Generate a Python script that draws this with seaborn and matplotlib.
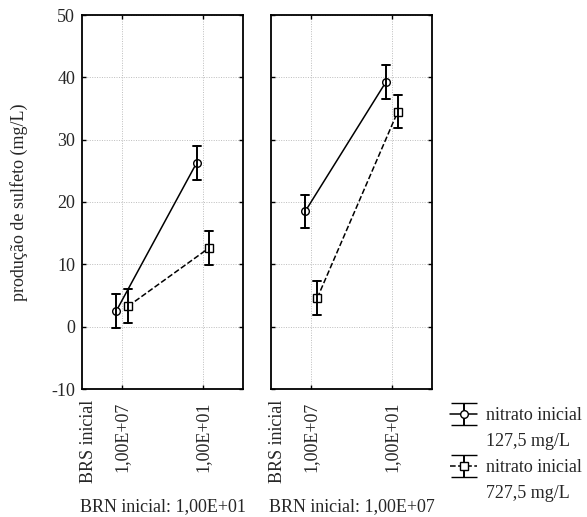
import numpy as np
import pandas as pd
import matplotlib
matplotlib.use("Agg")
import matplotlib.pyplot as plt
import seaborn as sns
from matplotlib.container import ErrorbarContainer
from matplotlib.legend_handler import HandlerErrorbar

# ---- data ----
brn_levels = ["1,00E+01", "1,00E+07"]          # panels
brs_levels = ["1,00E+07", "1,00E+01"]          # x categories
nitrato_levels = ["127,5 mg/L", "727,5 mg/L"]  # series
# means [panel][series][category]
mean_127 = {"1,00E+01": [2.5, 26.3], "1,00E+07": [18.5, 39.2]}
mean_727 = {"1,00E+01": [3.3, 12.6], "1,00E+07": [4.6, 34.5]}
err_127 = {"1,00E+01": [2.7, 2.7], "1,00E+07": [2.7, 2.7]}
err_727 = {"1,00E+01": [2.7, 2.7], "1,00E+07": [2.7, 2.7]}
yticks = [-10, 0, 10, 20, 30, 40, 50]

rows = []
for brn in brn_levels:
    for nit, means, errs in [(nitrato_levels[0], mean_127, err_127),
                             (nitrato_levels[1], mean_727, err_727)]:
        for brs, m, e in zip(brs_levels, means[brn], errs[brn]):
            rows.append(dict(brn=brn, brs=brs, nitrato=nit, y=m - e))
            rows.append(dict(brn=brn, brs=brs, nitrato=nit, y=m + e))
df = pd.DataFrame(rows)

sns.set_theme(style="ticks")
plt.rcParams["font.family"] = ["Liberation Serif", "DejaVu Serif"]
plt.rcParams["font.size"] = 13
plt.rcParams["axes.unicode_minus"] = False

fig = plt.figure(figsize=(5.87, 5.17), dpi=100)
W, H = 587, 517
bottom = 1 - 389 / H
height = (389 - 15) / H
ax1 = fig.add_axes([82 / W, bottom, 161 / W, height])
ax2 = fig.add_axes([271 / W, bottom, 161 / W, height], sharey=ax1)

for ax, brn in zip([ax1, ax2], brn_levels):
    sub = df[df.brn == brn]
    sns.pointplot(data=sub, x="brs", y="y", hue="nitrato", order=brs_levels,
                  hue_order=nitrato_levels, palette=["black", "black"],
                  estimator="mean", errorbar=("pi", 100), dodge=0.15,
                  markers=["o", "s"], linestyles=["-", "--"], capsize=0.1,
                  err_kws={"linewidth": 1.4}, linewidth=1.1,
                  markersize=5.5, markerfacecolor="white",
                  markeredgecolor="black", markeredgewidth=1.0,
                  legend=False, ax=ax)
    ax.set_ylim(-10, 50)
    ax.set_xlim(-0.5, 1.5)
    ax.set_yticks(yticks)
    ax.set_xlabel("")
    ax.set_ylabel("")
    ax.grid(True, color="#bdbdbd", linestyle=(0, (1, 1.5)), linewidth=0.7)
    ax.set_axisbelow(True)
    ax.tick_params(direction="in", top=True, right=True, length=3,
                   width=1.0, color="black", labelsize=13)
    ax.tick_params(axis="x", pad=9)
    ax.tick_params(axis="y", pad=5)
    for lab in ax.get_xticklabels():
        lab.set_rotation(90)
        lab.set_va("top")
        lab.set_ha("center")
    for sp in ax.spines.values():
        sp.set_linewidth(1.3)
        sp.set_color("black")
        sp.set_visible(True)
    ax.text(0.04, -11 / 374, "BRS inicial", transform=ax.transAxes,
            rotation=90, ha="center", va="top", fontsize=13)
    ax.text(0.5, -(507 - 389) / 374, "BRN inicial: " + brn,
            transform=ax.transAxes, ha="center", va="center", fontsize=13)

ax2.tick_params(axis="y", labelleft=False)

fig.text(19 / W, 1 - 202 / H, "produção de sulfeto (mg/L)", rotation=90,
         ha="center", va="center", fontsize=13)

# legend handles
h1 = ax2.errorbar([np.nan], [np.nan], yerr=[np.nan], fmt="-o", color="black",
                  mfc="white", mec="black", ms=5.5, lw=1.1, capsize=9.5,
                  elinewidth=1.4)
h2 = ax2.errorbar([np.nan], [np.nan], yerr=[np.nan], fmt="--s", color="black",
                  mfc="white", mec="black", ms=5.5, lw=1.1, capsize=9.5,
                  elinewidth=1.4)
blank = plt.Line2D([], [], alpha=0)
fig.legend([h1, blank, h2, blank],
           ["nitrato inicial", nitrato_levels[0], "nitrato inicial", nitrato_levels[1]],
           loc="upper left", bbox_to_anchor=(450 / W, 1 - 407 / H),
           frameon=False, borderpad=0, borderaxespad=0, handlelength=1.5,
           handletextpad=0.5, labelspacing=0.5, fontsize=13,
           handler_map={ErrorbarContainer: HandlerErrorbar(yerr_size=0.6)})

fig.savefig("out.png", dpi=100)
